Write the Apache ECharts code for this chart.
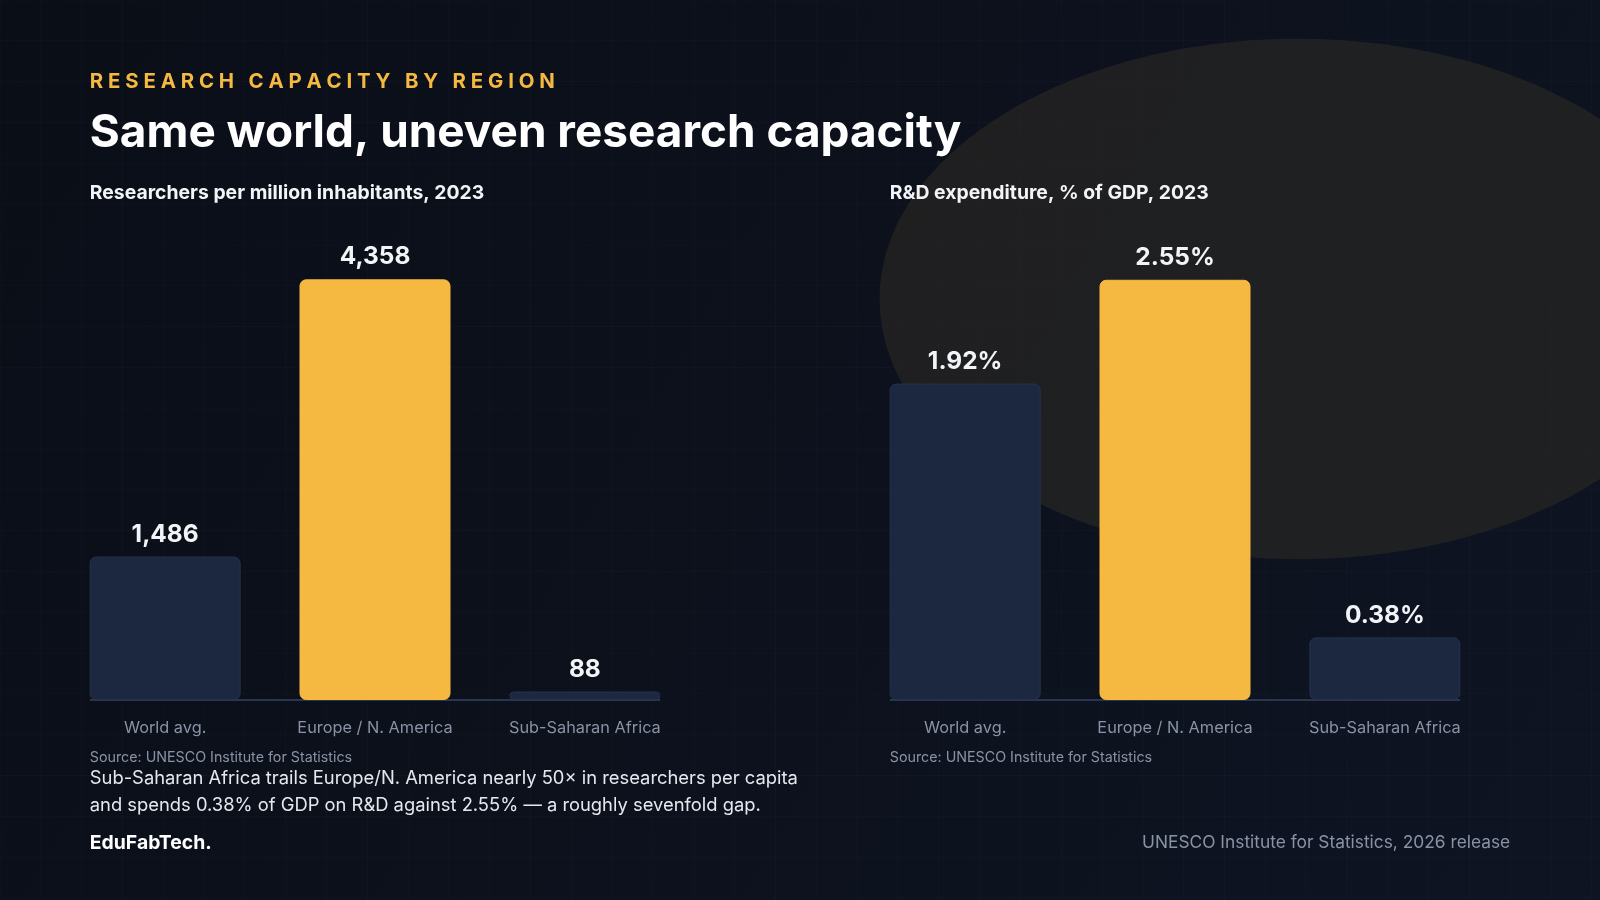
<!DOCTYPE html><html><head><meta charset="utf-8">
<script src="https://cdn.jsdelivr.net/npm/echarts@6/dist/echarts.min.js"></script>
<style>html,body{margin:0;background:#0B0F19}#c{width:1600px;height:900px}</style></head><body><div id="c"></div>
<script>
const categories=['World avg.','Europe / N. America','Sub-Saharan Africa'];
const researchers=[1486,4358,88];
const rdSpend=[1.92,2.55,0.38];
const s=1600/1568;
const F='Inter, "Noto Sans", sans-serif';
const chart=echarts.init(document.getElementById('c'));
const hi='#F5B942', dark='#1C2740';
function bars(vals,fmt){return vals.map((v,i)=>({value:v,itemStyle:{color:i===1?hi:dark,borderColor:i===1?hi:'#26324d',borderWidth:1,borderRadius:6*s},
 label:{show:true,position:'top',distance:10*s,color:'#F2F4F8',fontSize:24*s,fontWeight:'bold',fontFamily:F,formatter:fmt}}));}
const grids=[{left:59*s,width:617*s,top:213*s,bottom:(882-686)*s},{left:843*s,width:617*s,top:201.5*s,bottom:(882-686)*s}];
const xA=i=>({type:'category',gridIndex:i,data:categories,axisLine:{show:false},axisTick:{show:false},
 axisLabel:{color:'#8A93A6',fontSize:16*s,fontFamily:F,margin:20*s}});
const yA=(i,m)=>({type:'value',gridIndex:i,min:0,max:m,show:false,splitLine:{show:false}});
const g=[];
g.push({type:'rect',shape:{x:0,y:0,width:1600,height:900},style:{fill:new echarts.graphic.LinearGradient(0,0,1,1,[{offset:0,color:'#0A0E17'},{offset:1,color:'#0E1422'}])},z:-10});
for(let x=0;x<1600;x+=40*s)g.push({type:'line',shape:{x1:x,y1:0,x2:x,y2:900},style:{stroke:'rgba(255,255,255,0.025)',lineWidth:1},z:-9});
for(let y=0;y<900;y+=40*s)g.push({type:'line',shape:{x1:0,y1:y,x2:1600,y2:y},style:{stroke:'rgba(255,255,255,0.025)',lineWidth:1},z:-9});
g.push({type:'ellipse',shape:{cx:1272*s,cy:293*s,rx:410*s,ry:255*s},style:{fill:'rgba(48,44,36,0.55)'},z:-8});
g.push({type:'line',shape:{x1:88*s,y1:686*s,x2:647*s,y2:686*s},style:{stroke:'#2a3550',lineWidth:2},z:-1});
g.push({type:'line',shape:{x1:872*s,y1:686*s,x2:1431*s,y2:686*s},style:{stroke:'#2a3550',lineWidth:2},z:-1});
const T=(x,y,t,sz,c,w,extra)=>g.push({type:'text',x:x*s,y:y*s,style:Object.assign({text:t,fontSize:sz*s,fill:c,fontWeight:w,fontFamily:F,verticalAlign:'middle'},extra||{})});
T(88,80,'R E S E A R C H   C A P A C I T Y   B Y   R E G I O N',20,hi,'bold');
T(88,131,'Same world, uneven research capacity',45,'#FFFFFF','bold');
T(88,189,'Researchers per million inhabitants, 2023',19,'#F2F4F8','bold');
T(872,189,'R&D expenditure, % of GDP, 2023',19,'#F2F4F8','bold');
T(88,743,'Source: UNESCO Institute for Statistics',14,'#8A93A6','normal');
T(872,743,'Source: UNESCO Institute for Statistics',14,'#8A93A6','normal');
T(88,763,'Sub-Saharan Africa trails Europe/N. America nearly 50× in researchers per capita',18,'#E6E8EE','normal');
T(88,789,'and spends 0.38% of GDP on R&D against 2.55% — a roughly sevenfold gap.',18,'#E6E8EE','normal');
T(88,826,'EduFabTech.',19,'#FFFFFF','bold');
T(1480,826,'UNESCO Institute for Statistics, 2026 release',17,'#8A93A6','normal',{align:'right'});
chart.setOption({backgroundColor:'transparent',animation:false,grid:grids,xAxis:[xA(0),xA(1)],yAxis:[yA(0,5000),yA(1,3)],
 series:[{type:'bar',xAxisIndex:0,yAxisIndex:0,barWidth:148*s,data:bars(researchers,p=>p.value.toLocaleString('en-US'))},
 {type:'bar',xAxisIndex:1,yAxisIndex:1,barWidth:148*s,data:bars(rdSpend,p=>p.value.toFixed(2)+'%')}],
 graphic:g});
</script></body></html>
